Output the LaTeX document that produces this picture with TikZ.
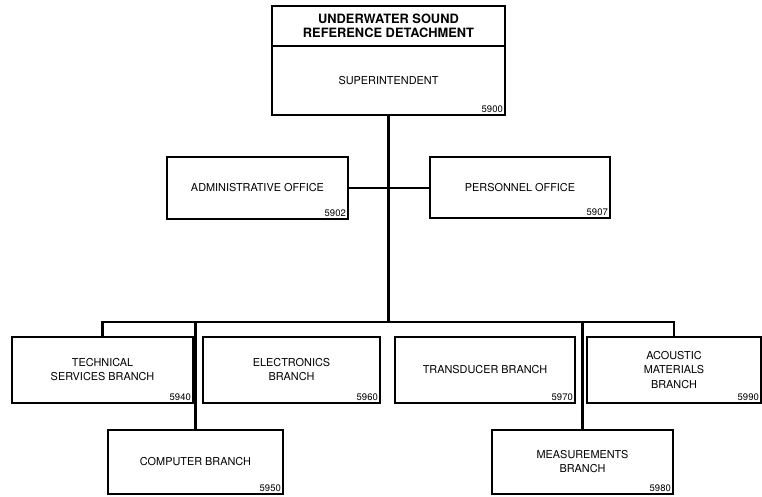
\documentclass[tikz,border=0pt]{standalone}
\usepackage{fontspec}
\setmainfont{TeX Gyre Heros}

\tikzset{
  unit/.style 2 args={draw, line width=1.1pt, minimum width=#1*0.02cm,
    minimum height=#2*0.02cm, inner sep=0pt, align=center,
    font=\fontsize{6.2}{8}\selectfont},
  code/.style={anchor=south east, inner sep=1.6pt,
    font=\fontsize{5.4}{6}\selectfont},
  link/.style={line width=1.6pt},
}

\begin{document}
\begin{tikzpicture}[x=0.02cm,y=-0.02cm]

    % 余白を固定
    \useasboundingbox (0,0) rectangle (762,497);

    % 上位の組織
    \node[unit={233}{40}, font=\bfseries\fontsize{7.3}{8.2}\selectfont] (usrd) at (388.5,26)
        {UNDERWATER SOUND\\REFERENCE DETACHMENT};
    \node[unit={233}{69}] (sup) at (388.5,80.5) {SUPERINTENDENT};
    \node[code] (n5900) at (sup.south east) {5900};

    % 事務部門
    \node[unit={181}{62}] (admin) at (257.5,188) {ADMINISTRATIVE OFFICE};
    \node[code] (n5902) at (admin.south east) {5902};
    \node[unit={180}{61}] (pers) at (520,187.5) {PERSONNEL OFFICE};
    \node[code] (n5907) at (pers.south east) {5907};

    % 各ブランチ
    \node[unit={181}{66}] (tech) at (102.5,370) {TECHNICAL\\SERVICES BRANCH};
    \node[code] (n5940) at (tech.south east) {5940};
    \node[unit={177}{66}] (elec) at (291.5,370) {ELECTRONICS\\BRANCH};
    \node[code] (n5960) at (elec.south east) {5960};
    \node[unit={180}{66}] (trans) at (485,370) {TRANSDUCER BRANCH};
    \node[code] (n5970) at (trans.south east) {5970};
    \node[unit={174}{66}] (acou) at (674,370) {ACOUSTIC\\MATERIALS\\BRANCH};
    \node[code] (n5990) at (acou.south east) {5990};
    \node[unit={175}{64}] (comp) at (195.5,462) {COMPUTER BRANCH};
    \node[code] (n5950) at (comp.south east) {5950};
    \node[unit={181}{64}] (meas) at (582.5,462) {MEASUREMENTS\\BRANCH};
    \node[code] (n5980) at (meas.south east) {5980};

    \coordinate (bus) at (388.5,322);

    % 接続線の描画
    \draw[link] (sup.south) -- (bus);
    \draw[link] (admin.east) -- (admin.east -| pers.west);
    \draw[link] (tech.north) |- (bus);
    \draw[link] (acou.north) |- (bus);
    \draw[link] (comp.north) -- (comp.north |- bus);
    \draw[link] (meas.north) -- (meas.north |- bus);

\end{tikzpicture}
\end{document}
